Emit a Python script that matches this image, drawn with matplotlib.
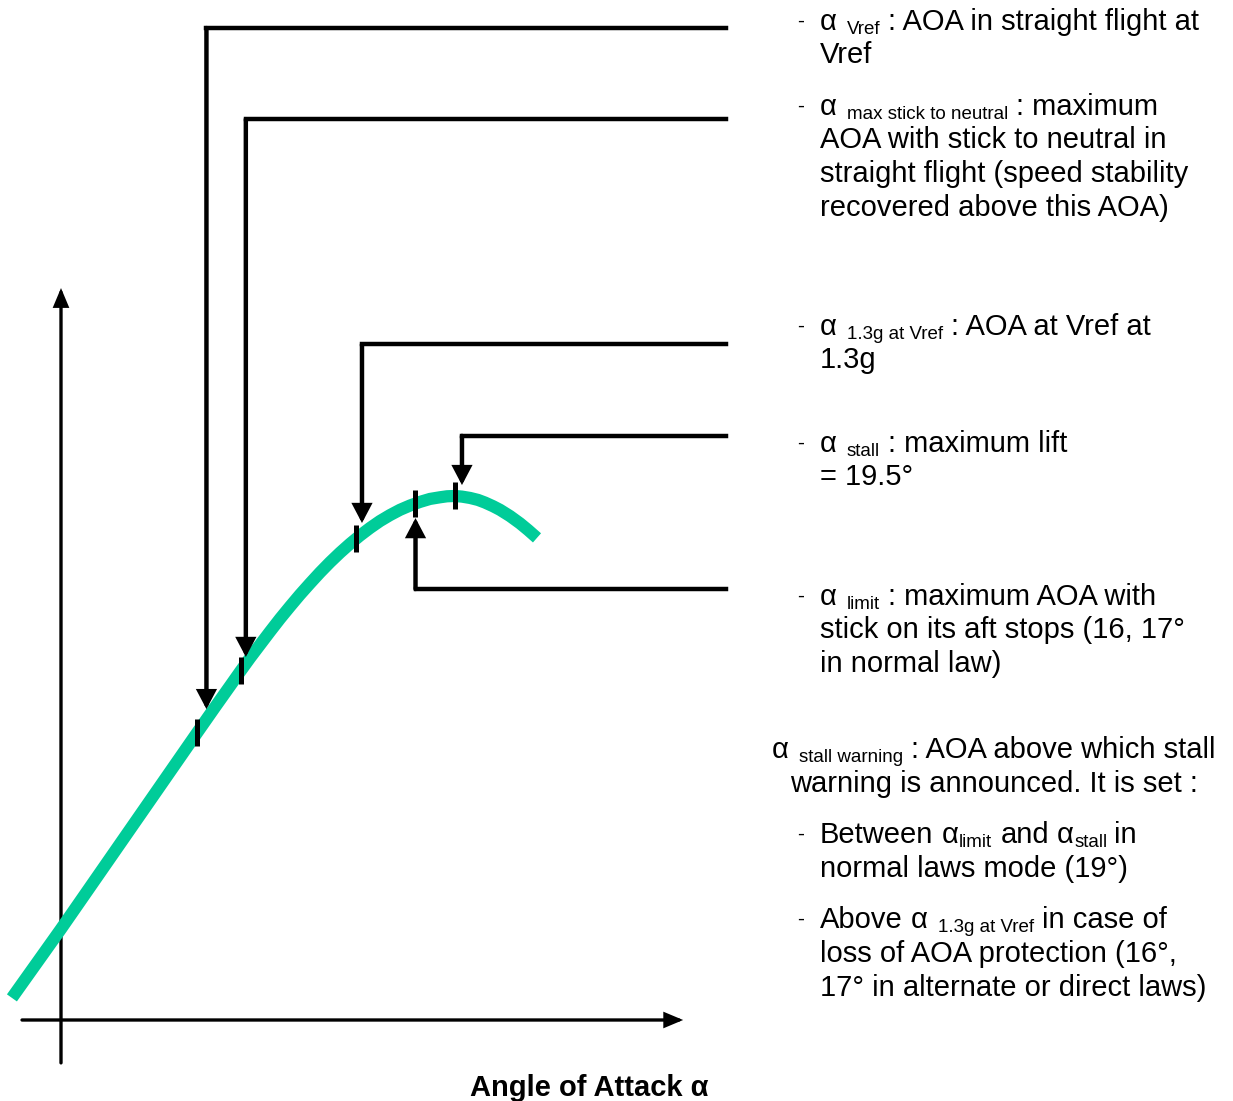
import numpy as np
import matplotlib
matplotlib.use("Agg")
import matplotlib.pyplot as plt

plt.rcParams["font.family"] = "Liberation Sans"

W, H = 1233, 1101

# lift curve, angle of attack (deg) against lift coefficient
aoa = [-2.43, 0.0, 6.733, 7.624, 8.366, 8.861, 9.356, 9.851, 10.347, 10.842,
       11.337, 11.832, 12.327, 12.822, 13.317, 13.812, 14.307, 14.802, 15.297,
       15.792, 16.287, 16.782, 17.277, 17.772, 18.267, 18.762, 19.109, 19.505,
       19.851, 20.248, 20.644, 20.990, 21.386, 21.733, 22.228, 22.723, 23.119, 23.564]
lift = [0.067, 0.276, 0.870, 0.948, 1.012, 1.055, 1.097, 1.137, 1.177, 1.216,
        1.253, 1.289, 1.323, 1.356, 1.387, 1.416, 1.443, 1.468, 1.491,
        1.512, 1.530, 1.546, 1.559, 1.570, 1.579, 1.584, 1.587, 1.588,
        1.586, 1.582, 1.576, 1.568, 1.557, 1.546, 1.527, 1.505, 1.485, 1.461]

# order: Vref, max stick to neutral, 1.3g at Vref, stall, limit
mark_aoa = [6.75, 8.9, 14.6, 19.5, 17.5]
arrow_aoa = [7.2, 9.15, 14.9, 19.85, 17.55]
leader_lift = [3.006, 2.73, 2.048, 1.77, 1.306]
tip_lift = [0.942, 1.1, 1.506, 1.621, 1.521]
leader_end = 32.9

# axis arrows
x_axis = [-1.93, 30.8]
y_axis = [-0.13, 2.218]

# text: left x, baseline y (pixels), pieces (text, is_subscript, gap after)
lines = [
    (820, 30, [("α", 0, 10), ("Vref", 1, 8), (": AOA in straight flight at", 0, 0)]),
    (820, 63, [("Vref", 0, 0)]),
    (820, 115, [("α", 0, 10), ("max stick to neutral", 1, 8), (": maximum", 0, 0)]),
    (820, 148, [("AOA with stick to neutral in", 0, 0)]),
    (820, 182, [("straight flight (speed stability", 0, 0)]),
    (820, 216, [("recovered above this AOA)", 0, 0)]),
    (820, 335, [("α", 0, 10), ("1.3g at Vref", 1, 8), (": AOA at Vref at", 0, 0)]),
    (820, 368, [("1.3g", 0, 0)]),
    (820, 452, [("α", 0, 10), ("stall", 1, 8), (": maximum lift", 0, 0)]),
    (820, 485, [("= 19.5°", 0, 0)]),
    (820, 605, [("α", 0, 10), ("limit", 1, 8), (": maximum AOA with", 0, 0)]),
    (820, 638, [("stick on its aft stops (16, 17°", 0, 0)]),
    (820, 672, [("in normal law)", 0, 0)]),
    (772, 758, [("α", 0, 10), ("stall warning", 1, 8), (": AOA above which stall", 0, 0)]),
    (790, 792, [("warning is announced. It is set :", 0, 0)]),
    (820, 843, [("Between", 0, 8), ("α", 0, 1), ("limit", 1, 8), ("and", 0, 8),
                ("α", 0, 1), ("stall", 1, 6), ("in", 0, 0)]),
    (820, 877, [("normal laws mode (19°)", 0, 0)]),
    (820, 928, [("Above", 0, 8), ("α", 0, 10), ("1.3g at Vref", 1, 8), ("in case of", 0, 0)]),
    (820, 962, [("loss of AOA protection (16°,", 0, 0)]),
    (820, 996, [("17° in alternate or direct laws)", 0, 0)]),
]
bullet_y = [30, 115, 335, 452, 605, 843, 928]

PX_DEG, PX_CL, X0, Y0 = 20.2, 330, 61, 1020

fig = plt.figure(figsize=(W / 100, H / 100), dpi=100)
ax = fig.add_axes([0, 0, 1, 1])
ax.set_xlim(-X0 / PX_DEG, (W - X0) / PX_DEG)
ax.set_ylim((Y0 - H) / PX_CL, Y0 / PX_CL)
ax.axis("off")
renderer = fig.canvas.get_renderer()


def arrow(x0, y0, x1, y1, lw, hl, hw):
    ax.annotate("", xy=(x1, y1), xytext=(x0, y0),
                arrowprops=dict(arrowstyle=f"-|>,head_length={hl},head_width={hw}",
                                mutation_scale=1, lw=lw, color="black",
                                shrinkA=0, shrinkB=0, joinstyle="miter"))


arrow(0, y_axis[0], 0, y_axis[1], 2.4, 10, 4.2)
arrow(x_axis[0], 0, x_axis[1], 0, 2.4, 10, 4.2)

ax.plot(aoa, lift, color="#00cc99", lw=8.8, solid_capstyle="butt",
        solid_joinstyle="round", zorder=3)

for a in mark_aoa:
    c = float(np.interp(a, aoa, lift))
    ax.plot([a, a], [c - 0.041, c + 0.041], color="black", lw=3.6,
            solid_capstyle="butt", zorder=4)

for a, h, tip in zip(arrow_aoa, leader_lift, tip_lift):
    ax.plot([leader_end, a], [h, h], color="black", lw=3.2,
            solid_capstyle="projecting", zorder=4)
    arrow(a, h, a, tip, 3.2, 9.5, 5)

for x, y, parts in lines:
    for s, sub, gap in parts:
        t = fig.text(x / W, 1 - (y + 4 * sub) / H, s, fontsize=13.5 if sub else 21,
                     ha="left", va="baseline")
        x += t.get_window_extent(renderer).width + gap
for y in bullet_y:
    fig.text(797 / W, 1 - (y - 3) / H, "-", fontsize=15, ha="left", va="baseline")

fig.text(470 / W, 1 - 1096 / H, "Angle of Attack α", fontsize=21,
         fontweight="bold", ha="left", va="baseline")

fig.savefig("out.png", dpi=100)
